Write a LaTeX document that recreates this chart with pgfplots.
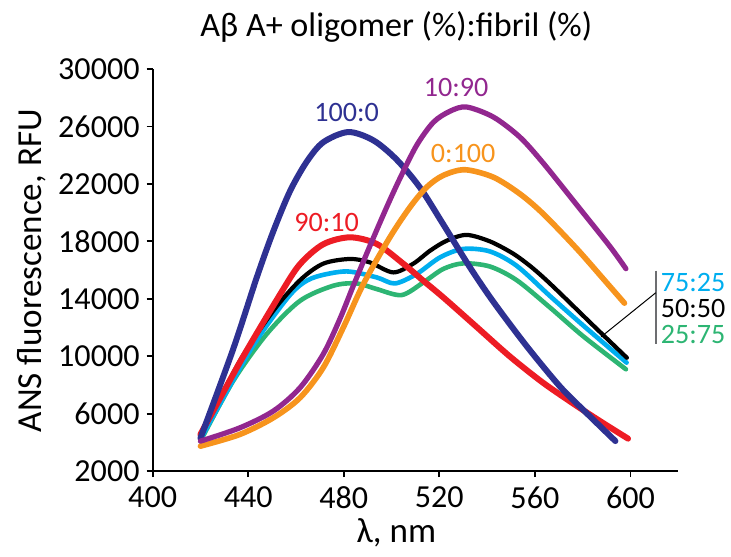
\documentclass[border=0pt]{standalone}
\usepackage{pgfplots}
\pgfplotsset{compat=1.18}
\usepackage{fontspec}
\setmainfont{Carlito}
\definecolor{cblue}{HTML}{2E3192}
\definecolor{cred}{HTML}{ED1C24}
\definecolor{cpurple}{HTML}{92278F}
\definecolor{corange}{HTML}{F7941D}
\definecolor{ccyan}{HTML}{00AEEF}
\definecolor{cgreen}{HTML}{2DB573}
\definecolor{cgray}{HTML}{6D6E71}
\begin{document}
\begin{tikzpicture}
\begin{axis}[
  scale only axis, width=262pt, height=200.5pt,
  xmin=400, xmax=620, ymin=2000, ymax=30000,
  axis x line*=bottom, axis y line*=left,
  axis line style={line width=0.9pt, black},
  xtick={400,440,...,600}, ytick={2000,6000,...,30000},
  tick align=outside, major tick length=3pt,
  tick style={line width=0.9pt, black},
  scaled ticks=false,
  /pgf/number format/1000 sep={},
  /pgf/number format/assume math mode=true,
  ticklabel style={font=\fontsize{16}{18}\selectfont},
  xticklabel style={yshift=-1pt},
  clip=false,
  every axis plot/.append style={smooth, no markers, line cap=round, line join=round},
]
% 25:75 green
\addplot[cgreen, line width=2.3pt] coordinates {
(420,4094) (433.7,8282) (447.7,11542) (461.7,13866) (475.6,14913) (485.4,15073)
(493.8,14682) (504.2,14264) (513.3,15143) (521.6,16079) (530.0,16470) (541.2,16250)
(552.4,15300) (566.3,13400) (580.2,11400) (598.1,9099)};
% 75:25 cyan
\addplot[ccyan, line width=2.3pt] coordinates {
(420,4213) (440.7,10376) (454.7,13700) (461.7,14950) (468.6,15550) (481.2,15911)
(493.8,15492) (501.4,15073) (510.5,15730) (520.3,16888) (530.0,17475) (541.2,17300)
(552.4,16300) (566.3,14200) (580.2,12150) (598.4,9560)};
% 50:50 black
\addplot[black, line width=2.1pt] coordinates {
(420,4400) (436.5,9678) (450.5,13168) (461.7,15300) (471.4,16450) (482.6,16777)
(490.9,16540) (500.7,15841) (509.1,16450) (516.1,17350) (523.1,18050) (531.4,18452)
(541.2,18000) (550.9,17150) (557.9,16300) (563.5,15500) (570.5,14400) (584.4,12150)
(598.5,9900)};
% 90:10 red
\addplot[cred, line width=3pt] coordinates {
(420,4562) (436.6,9608) (453.3,14300) (461.6,16400) (471.4,17800) (482.6,18284)
(493.8,17824) (504.9,16450) (513.3,15262) (521.7,14096) (535.6,12050) (549.6,9980)
(563.5,8150) (577.5,6550) (588.6,5350) (599.0,4270)};
% 100:0 blue
\addplot[cblue, line width=3pt] coordinates {
(420,4300) (433.7,10500) (443.6,15500) (450.5,18700) (457.5,21500) (464.5,23550)
(471.4,24900) (481.9,25613) (492.4,25034) (502.1,23700) (511.9,21750) (521.6,19200)
(532.8,16200) (542.6,13800) (556.6,10700) (570.5,7900) (581.0,6150) (593.7,4100)};
% 0:100 orange
\addplot[corange, line width=2.8pt] coordinates {
(420,3745) (436.5,4562) (450.5,5720) (461.7,7116) (471.4,9210) (479.8,12002)
(488.2,15032) (499.3,18284) (507.7,20378) (514.7,21775) (521.6,22591) (530.7,22989)
(542.6,22472) (553.7,21313) (563.5,19917) (577.5,17500) (588.6,15400) (597.5,13700)};
% 10:90 purple
\addplot[cpurple, line width=2.6pt] coordinates {
(420,4094) (436.5,5022) (450.5,6188) (461.7,7814) (471.4,10146) (478.4,12610)
(484.0,14913) (491.0,17705) (497.9,20357) (503.5,22381) (510.5,24685) (517.5,26290)
(524.4,27058) (531.4,27357) (542.6,26660) (553.7,25264) (563.5,23450) (577.5,20550)
(591.4,17650) (598.1,16100)};
% curve labels
\node[font=\fontsize{14}{16}\selectfont, text=cblue] at (axis cs:481.2,26988) {100:0};
\node[font=\fontsize{14}{16}\selectfont, text=cred] at (axis cs:472.8,19331) {90:10};
\node[font=\fontsize{14}{16}\selectfont, text=cpurple] at (axis cs:527.0,28713) {10:90};
\node[font=\fontsize{14}{16}\selectfont, text=corange] at (axis cs:530.0,24106) {0:100};
% right-side labels
\draw[cgray, line width=1pt] (axis cs:610.6,15960) -- (axis cs:610.6,10865);
\draw[black, line width=0.5pt] (axis cs:610.6,14424) -- (axis cs:587.7,11353);
\node[font=\fontsize{14}{16}\selectfont, text=ccyan, anchor=west, inner sep=0pt] at (axis cs:612.6,15122) {75:25};
\node[font=\fontsize{14}{16}\selectfont, text=black, anchor=west, inner sep=0pt] at (axis cs:612.6,13308) {50:50};
\node[font=\fontsize{14}{16}\selectfont, text=cgreen, anchor=west, inner sep=0pt] at (axis cs:612.6,11493) {25:75};
% title and axis labels
\node[font=\fontsize{17}{20}\selectfont] at (axis cs:502,32900) {Aβ A+ oligomer (\%):fibril (\%)};
\node[font=\fontsize{17.5}{21}\selectfont, rotate=90] at (axis cs:349.5,15960) {ANS fluorescence, RFU};
\node[font=\fontsize{17.5}{21}\selectfont] at (axis cs:502,-2300) {λ, nm};
% frame of the picture
\coordinate (bbsw) at (axis cs:336.1,-3933);
\coordinate (bbne) at (axis cs:642.1,34806);
\end{axis}
\pgfresetboundingbox
\useasboundingbox (bbsw) rectangle (bbne);
\end{tikzpicture}
\end{document}
